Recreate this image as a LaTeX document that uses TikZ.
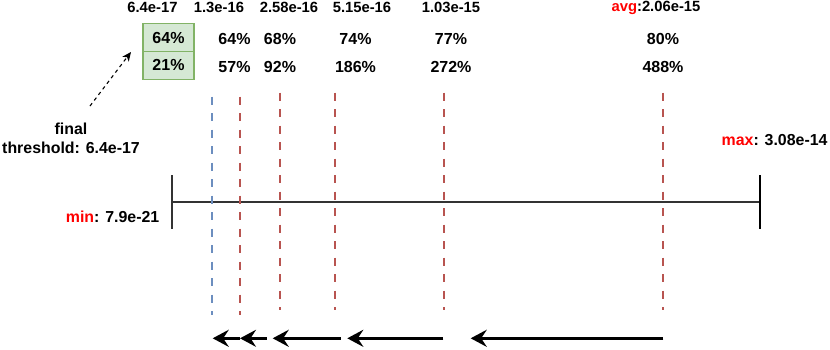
\documentclass[tikz,border=0pt]{standalone}
\usepackage{fontspec}
\setmainfont{Liberation Sans}
\usetikzlibrary{arrows.meta}
\definecolor{redline}{HTML}{B85450}
\definecolor{blueline}{HTML}{6C8EBF}
\definecolor{gfill}{HTML}{D5E8D4}
\definecolor{gstroke}{HTML}{82B366}
\definecolor{axis}{HTML}{333333}
\definecolor{lblred}{HTML}{FF0000}
\tikzset{
  toplbl/.style={font=\fontsize{14.8}{17}\selectfont\bfseries, inner sep=0pt},
  pct/.style={font=\fontsize{16}{18}\selectfont\bfseries, inner sep=0pt},
  lbl/.style={font=\fontsize{15.9}{18.5}\selectfont\bfseries, inner sep=0pt, align=center},
  cell/.style={draw=gstroke, fill=gfill, line width=1.2pt, minimum width=51pt, minimum height=28pt, inner sep=0pt, font=\fontsize{16}{18}\selectfont\bfseries},
  reddash/.style={draw=redline, line width=2.7pt, dash pattern=on 8pt off 8.5pt},
  bluedash/.style={draw=blueline, line width=2.7pt, dash pattern=on 8pt off 8.5pt},
  movearrow/.style={draw=black, line width=2.6pt, -{Stealth[length=16pt, width=17pt, inset=5.5pt]}},
}
\begin{document}
\begin{tikzpicture}[x=1pt,y=-1pt]
\useasboundingbox (0,0) rectangle (830,349);

% top value labels
\node[toplbl] (t0) at (152.5,7.5) {6.4e-17};
\node[toplbl] (t1) at (219,7.5) {1.3e-16};
\node[toplbl] (t2) at (289,7.5) {2.58e-16};
\node[toplbl] (t3) at (362,7.5) {5.15e-16};
\node[toplbl] (t4) at (451,7.5) {1.03e-15};
\node[toplbl] (t5) at (656,7.5) {\textcolor{lblred}{avg}:2.06e-15};

% green cells
\node[cell] (c1) at (168.5,37.5) {64\%};
\node[cell] (c2) at (168.5,65.3) {21\%};

% percentages
\node[pct] (a1) at (234.5,39.3) {64\%};
\node[pct] (a2) at (280,39.3) {68\%};
\node[pct] (a3) at (355.5,39.3) {74\%};
\node[pct] (a4) at (451,39.3) {77\%};
\node[pct] (a5) at (663,39.3) {80\%};
\node[pct] (b1) at (234.5,66.7) {57\%};
\node[pct] (b2) at (280,66.7) {92\%};
\node[pct] (b3) at (355.5,66.7) {186\%};
\node[pct] (b4) at (451,66.7) {272\%};
\node[pct] (b5) at (663,66.7) {488\%};

% final threshold label and dashed arrow
\node[lbl] (fin) at (71,138.5) {final\\threshold: 6.4e-17};
\coordinate (fa) at (90,106);
\coordinate (fb) at (131,52);
\draw[line width=1.1pt, dash pattern=on 3.5pt off 3.5pt, -{Stealth[length=9pt, width=8pt, inset=2.5pt]}] (fa) -- (fb);

% min / max labels
\node[lbl, anchor=east] (minl) at (159.5,217.3) {\textcolor{lblred}{min}: 7.9e-21};
\node[lbl, anchor=east] (maxl) at (827.7,140.5) {\textcolor{lblred}{max}: 3.08e-14};

% axis
\coordinate (l0) at (172,175);
\coordinate (l1) at (172,229);
\coordinate (r0) at (760,175);
\coordinate (r1) at (760,229);
\coordinate (ml) at (172,202);
\coordinate (mr) at (760,202);
\draw[axis, line width=1.7pt] (ml) -- (mr);
\draw[axis, line width=2pt] (l0) -- (l1);
\draw[black, line width=1.5pt] (r0) -- (r1);

% dashed threshold lines
\coordinate (d0t) at (212,96.7);  \coordinate (d0b) at (212,315);
\coordinate (d1t) at (240,96.7);  \coordinate (d1b) at (240,315);
\coordinate (d2t) at (280,92.7);  \coordinate (d2b) at (280,310);
\coordinate (d3t) at (335,92.7);  \coordinate (d3b) at (335,310);
\coordinate (d4t) at (444,92.7);  \coordinate (d4b) at (444,310);
\coordinate (d5t) at (663,92.7);  \coordinate (d5b) at (663,310);
\draw[bluedash] (d0t) -- (d0b);
\draw[reddash] (d1t) -- (d1b);
\draw[reddash] (d2t) -- (d2b);
\draw[reddash] (d3t) -- (d3b);
\draw[reddash] (d4t) -- (d4b);
\draw[reddash] (d5t) -- (d5b);

% movement arrows
\coordinate (m0) at (212.7,338.3);
\coordinate (m1) at (240,338.3);
\coordinate (m1e) at (266.7,338.3);
\coordinate (m2) at (272.7,338.3);
\coordinate (m2e) at (340.7,338.3);
\coordinate (m3) at (347.3,338.3);
\coordinate (m3e) at (443.3,338.3);
\coordinate (m4) at (470.7,338.3);
\coordinate (m4e) at (663.3,338.3);
\draw[movearrow] (m1) -- (m0);
\draw[movearrow] (m1e) -- (m1);
\draw[movearrow] (m2e) -- (m2);
\draw[movearrow] (m3e) -- (m3);
\draw[movearrow] (m4e) -- (m4);
\end{tikzpicture}
\end{document}
